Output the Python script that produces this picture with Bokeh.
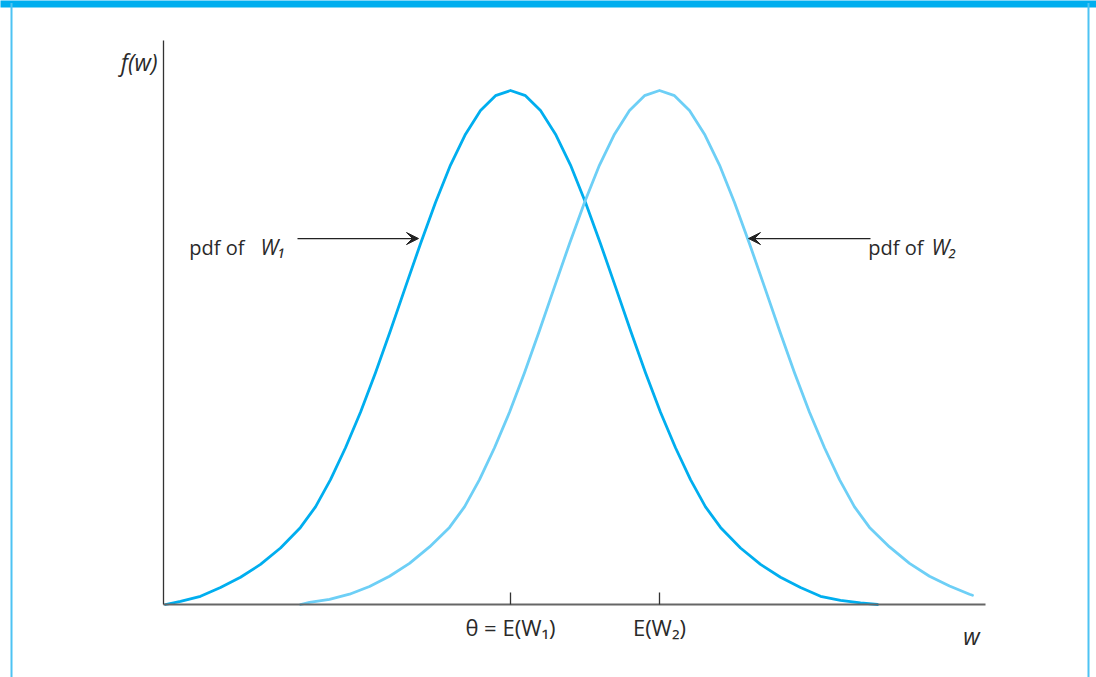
from bokeh.plotting import figure
from bokeh.models import (Range1d, FixedTicker, Label, Arrow, VeeHead, BoxAnnotation, LinearAxis)
from bokeh.embed import file_html
from bokeh.resources import INLINE

# ---- data ----
w1 = [0.02, 0.17, 0.37, 0.57, 0.77, 0.97, 1.17, 1.37, 1.52, 1.67, 1.82, 1.97, 2.12, 2.27, 2.42,
      2.57, 2.72, 2.87, 3.02, 3.17, 3.32, 3.47, 3.62, 3.77, 3.92, 4.07, 4.22, 4.37, 4.52, 4.67,
      4.82, 4.97, 5.12, 5.27, 5.42, 5.57, 5.77, 5.97, 6.17, 6.37, 6.57, 6.77, 6.97, 7.14]
f1 = [0.000, 0.006, 0.016, 0.033, 0.053, 0.078, 0.110, 0.150, 0.190, 0.243, 0.305, 0.374, 0.451, 0.533, 0.618,
      0.702, 0.782, 0.855, 0.915, 0.961, 0.990, 1.000, 0.990, 0.961, 0.915, 0.855, 0.782, 0.702, 0.618, 0.533,
      0.451, 0.374, 0.305, 0.243, 0.190, 0.150, 0.110, 0.078, 0.053, 0.033, 0.016, 0.008, 0.003, 0.000]

w2 = [1.37, 1.46, 1.66, 1.86, 2.06, 2.26, 2.46, 2.66, 2.86, 3.01, 3.16, 3.31, 3.46, 3.61, 3.76,
      3.91, 4.06, 4.21, 4.36, 4.51, 4.66, 4.81, 4.96, 5.11, 5.26, 5.41, 5.56, 5.71, 5.86, 6.01,
      6.16, 6.31, 6.46, 6.61, 6.76, 6.91, 7.06, 7.26, 7.46, 7.66, 7.86, 8.06, 8.09]
f2 = [0.000, 0.004, 0.010, 0.020, 0.035, 0.055, 0.080, 0.112, 0.150, 0.190, 0.243, 0.305, 0.374, 0.451, 0.533,
      0.618, 0.702, 0.782, 0.855, 0.915, 0.961, 0.990, 1.000, 0.990, 0.961, 0.915, 0.855, 0.782, 0.702, 0.618,
      0.533, 0.451, 0.374, 0.305, 0.243, 0.190, 0.150, 0.112, 0.080, 0.055, 0.036, 0.020, 0.018]

means = [3.47, 4.96]
tick_labels = ["θ = E(W₁)", "E(W₂)"]
series_names = ["W₁", "W₂"]

FONT = "Open Sans"
TXT = "#2a2a2a"
C1 = "#00AEEF"
C2 = "#6DCFF6"

# 1 x-unit = 100 px, 1 y-unit = 514 px; axis origin at canvas (163, 604)
p = figure(width=1096, height=677, output_backend="svg", toolbar_location=None,
           x_range=Range1d(-1.63, 9.33), y_range=Range1d(-0.14202, 1.17510),
           x_axis_location=None, y_axis_location=None,
           min_border=0, min_border_left=0, min_border_right=0, min_border_top=0, min_border_bottom=0)
p.outline_line_color = None
p.xgrid.visible = False
p.ygrid.visible = False
p.background_fill_color = "white"
p.border_fill_color = "white"

# axes (fixed inside the frame)
xa = LinearAxis(fixed_location=0, bounds=(0, 8.22))
xa.ticker = FixedTicker(ticks=means)
xa.major_label_overrides = {means[0]: tick_labels[0], means[1]: tick_labels[1]}
xa.major_tick_in = 12
xa.major_tick_out = 0
xa.major_tick_line_color = "#333333"
xa.major_tick_line_width = 1.3
xa.minor_tick_line_color = None
xa.axis_line_color = "#666666"
xa.axis_line_width = 2
xa.major_label_text_font = FONT
xa.major_label_text_font_size = "22px"
xa.major_label_text_color = TXT
xa.major_label_standoff = 7
p.add_layout(xa, "below")

ya = LinearAxis(fixed_location=0, bounds=(0, 1.0973))
ya.ticker = FixedTicker(ticks=[])
ya.major_label_text_font_size = "0px"
ya.minor_tick_line_color = None
ya.major_tick_line_color = None
ya.axis_line_color = "#333333"
ya.axis_line_width = 1.3
p.add_layout(ya, "left")

# curves
p.line(w1, f1, line_color=C1, line_width=2.8, line_join="round", line_cap="round")
p.line(w2, f2, line_color=C2, line_width=2.8, line_join="round", line_cap="round")

# frame decorations (top band and side rules)
p.add_layout(BoxAnnotation(left=-1.7, right=9.4, bottom=1.1615, top=1.2, fill_color="#00AEEF",
                           fill_alpha=1, line_color=None, level="overlay"))
p.add_layout(BoxAnnotation(left=-1.53, right=-1.51, bottom=-0.2, top=1.17, fill_color="#4DC3F3",
                           fill_alpha=1, line_color=None, level="overlay"))
p.add_layout(BoxAnnotation(left=9.24, right=9.26, bottom=-0.2, top=1.17, fill_color="#4DC3F3",
                           fill_alpha=1, line_color=None, level="overlay"))

# arrows
arrow_y = 0.712
p.add_layout(Arrow(end=VeeHead(size=12, fill_color="#222222", line_color="#222222"),
                   x_start=1.34, y_start=arrow_y, x_end=2.55, y_end=arrow_y,
                   line_color="#222222", line_width=1.3))
p.add_layout(Arrow(end=VeeHead(size=12, fill_color="#222222", line_color="#222222"),
                   x_start=7.07, y_start=arrow_y, x_end=5.85, y_end=arrow_y,
                   line_color="#222222", line_width=1.3))

def lab(x, y, text, align="left", style="normal", size="21px"):
    p.add_layout(Label(x=x, y=y, text=text, text_align=align, text_baseline="alphabetic",
                       text_font=FONT, text_font_size=size, text_font_style=style,
                       text_color=TXT))

base = 0.6946
lab(0.81, base, "pdf of", align="right", size="20px")
lab(0.97, base, series_names[0], style="italic")
lab(7.60, base, "pdf of", align="right", size="20px")
lab(7.68, base, series_names[1], style="italic")

lab(-0.06, 1.055, "f(w)", align="right", style="italic", size="23px")
lab(8.08, -0.061, "w", align="center", style="italic", size="23px")

open("out.html", "w").write(file_html(p, INLINE))
